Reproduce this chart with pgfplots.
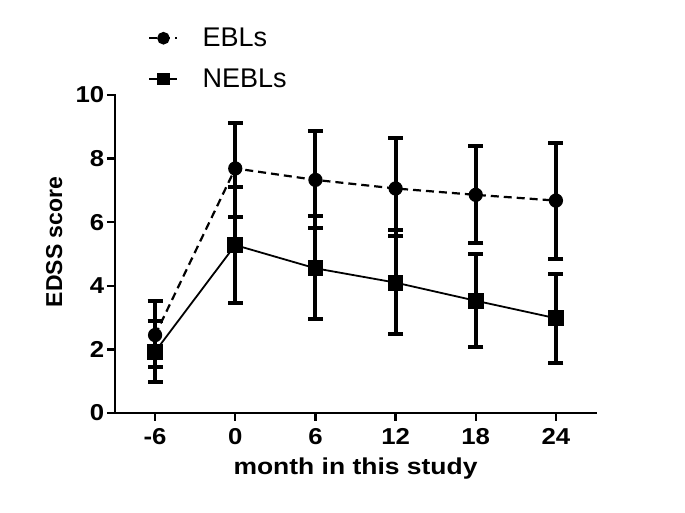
\documentclass[border=0pt]{standalone}
\usepackage{pgfplots}
\pgfplotsset{compat=1.18}
\usepackage{pgfplotstable}
\usepackage{fontspec}
\setmainfont{Liberation Sans}

\pgfplotstableread{
x y up lo
-6 2.45 3.52 1.46
0 7.69 9.13 6.15
6 7.33 8.88 5.81
12 7.06 8.64 5.57
18 6.86 8.40 5.36
24 6.68 8.48 4.84
}\ebl
\pgfplotstableread{
x y up lo
-6 1.93 2.90 0.98
0 5.28 7.12 3.45
6 4.55 6.19 2.95
12 4.10 5.75 2.48
18 3.53 5.00 2.07
24 2.98 4.36 1.58
}\nebl

\begin{document}
\begin{tikzpicture}
\path[use as bounding box] (-115pt,-100pt) rectangle (570pt,413pt);
\begin{axis}[
  at={(0pt,0pt)}, anchor=south west,
  scale only axis, width=481pt, height=318pt,
  xmin=-9, xmax=27, ymin=0, ymax=10,
  axis x line*=bottom, axis y line*=left,
  axis line style={line width=2.6pt, line cap=rect},
  xtick={-6,0,6,12,18,24},
  xticklabels={-6,0,6,12,18,24},
  ytick={0,2,4,6,8,10},
  tick align=outside,
  major tick length=8pt,
  tick style={line width=2.4pt, black},
  /pgf/number format/assume math mode=true,
  ticklabel style={font=\bfseries\fontsize{23}{23}\selectfont, xscale=1.12},
  xticklabel style={yshift=-4pt},
  yticklabel style={xshift=1pt},
  xlabel={month in this study},
  ylabel={EDSS score},
  xlabel style={font=\bfseries\fontsize{23}{23}\selectfont, xscale=1.15, yshift=-6pt},
  ylabel style={font=\bfseries\fontsize{23}{23}\selectfont, yshift=6pt, xshift=12pt},
  clip=false,
  legend style={draw=none, fill=none, at={(0.069,1.217)}, anchor=north west,
    font=\fontsize{27}{27}\selectfont, row sep=17pt, inner sep=0pt,
    column sep=22pt},
  legend cell align=left,
  legend image code/.code={
    \draw[#1, mark repeat=2, mark phase=2, mark size=5.2pt] plot coordinates {(0pt,0pt) (14pt,0pt) (28pt,0pt)};
  },
]
\addplot[black, line width=2.2pt, dash pattern=on 8pt off 5pt,
  mark=*, mark size=6pt, mark options={solid},
  error bars/.cd, y dir=both, y explicit,
  error bar style={line width=4pt, solid},
  error mark options={rotate=90, mark size=7.5pt, line width=4pt, solid}]
  table[x=x, y=y, y error plus expr=\thisrow{up}-\thisrow{y}, y error minus expr=\thisrow{y}-\thisrow{lo}] {\ebl};
\addlegendentry{EBLs}
\addplot[black, line width=1.8pt,
  mark=square*, mark size=7pt,
  error bars/.cd, y dir=both, y explicit,
  error bar style={line width=4pt},
  error mark options={rotate=90, mark size=7.5pt, line width=4pt}]
  table[x=x, y=y, y error plus expr=\thisrow{up}-\thisrow{y}, y error minus expr=\thisrow{y}-\thisrow{lo}] {\nebl};
\addlegendentry{NEBLs}
\end{axis}
\end{tikzpicture}
\end{document}
